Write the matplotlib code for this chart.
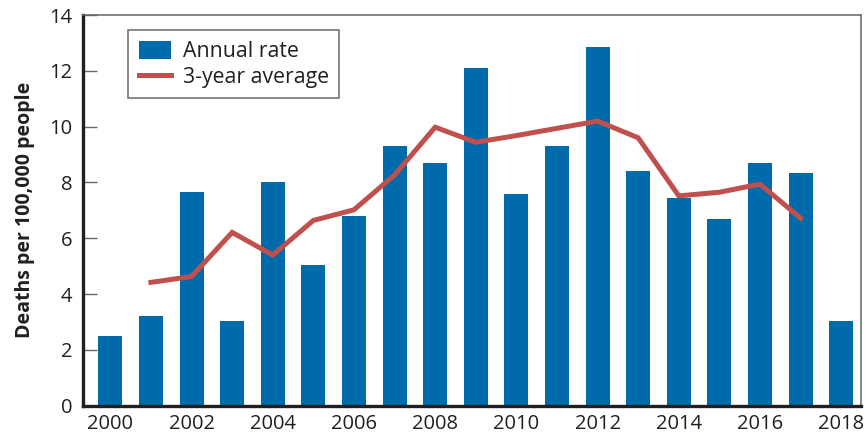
import matplotlib
matplotlib.use('Agg')
import matplotlib.pyplot as plt

plt.rcParams['font.family'] = ['Open Sans', 'DejaVu Sans']

years = list(range(2000, 2019))
annual_rate = [2.5, 3.2, 7.65, 3.05, 8.0, 5.05, 6.8, 9.3, 8.68,
               12.1, 7.58, 9.3, 12.85, 8.4, 7.45, 6.7, 8.68, 8.33, 3.05]
avg_years = list(range(2001, 2018))
avg_3yr = [4.42, 4.63, 6.21, 5.4, 6.64, 7.02, 8.27, 9.98, 9.44,
           9.68, 9.94, 10.2, 9.6, 7.52, 7.65, 7.94, 6.72]
xtick_years = list(range(2000, 2019, 2))
yticks = list(range(0, 15, 2))

bar_color = '#006BAA'
line_color = '#C0504D'
text_color = '#231F20'

fig = plt.figure(figsize=(8.68, 4.38), dpi=100)
ax = fig.add_axes([0.096, 0.0737, 0.8956, 0.892])

bars = ax.bar(years, annual_rate, width=0.59, color=bar_color, label='Annual rate', zorder=2)
line, = ax.plot(avg_years, avg_3yr, color=line_color, linewidth=3.6, label='3-year average',
                solid_joinstyle='miter', zorder=3)

ax.set_xlim(1999.335, 2018.48)
ax.set_ylim(0, 14)
ax.set_xticks(xtick_years)
ax.set_yticks(yticks)
ax.tick_params(axis='x', length=0, pad=6, labelsize=14.5, labelcolor=text_color)
ax.tick_params(axis='y', direction='in', length=10, width=1, color='#666666',
               pad=8, labelsize=14.5, labelcolor=text_color)

for side in ['left', 'bottom']:
    ax.spines[side].set_color('#231F20')
    ax.spines[side].set_linewidth(2.4)
for side in ['top', 'right']:
    ax.spines[side].set_color('#666666')
    ax.spines[side].set_linewidth(1.1)

ax.set_ylabel('Deaths per 100,000 people', fontsize=14, fontweight='bold',
              color=text_color, labelpad=10)

leg = ax.legend([bars, line], ['Annual rate', '3-year average'],
                loc='upper left', bbox_to_anchor=(0.058, 0.9616), borderaxespad=0,
                fontsize=15.3, fancybox=False, frameon=True, handlelength=1.5,
                handleheight=0.95, handletextpad=0.55, borderpad=0.5, labelspacing=0.2)
leg.get_frame().set_edgecolor('#555555')
leg.get_frame().set_linewidth(1.2)
for t in leg.get_texts():
    t.set_color(text_color)

fig.savefig('out.png', dpi=100)
